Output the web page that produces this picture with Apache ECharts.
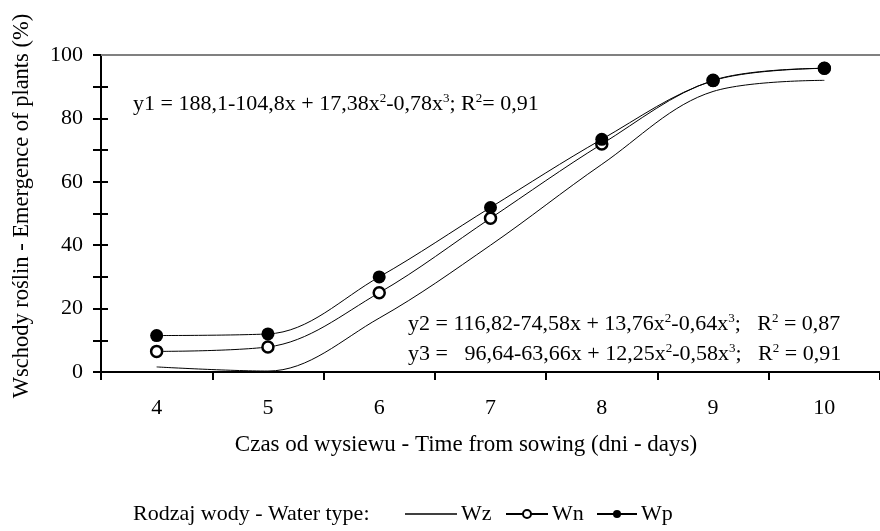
<!DOCTYPE html>
<html>
<head>
<meta charset="utf-8">
<script src="https://cdn.jsdelivr.net/npm/echarts@6/dist/echarts.min.js"></script>
<style>html,body{margin:0;padding:0;background:#fff;}#chart{width:880px;height:531px;}</style>
</head>
<body>
<div id="chart"></div>
<script>
var categories = ['4', '5', '6', '7', '8', '9', '10'];
var wz = [1.6, 0.3, 17, 40, 65.5, 88.5, 92];
var wn = [6.5, 7.9, 25.0, 48.5, 71.9, 92, 95.8];
var wp = [11.5, 12.0, 30.0, 51.9, 73.4, 91.9, 95.8];
var seriesNames = ['Wz', 'Wn', 'Wp'];
var yTitle = 'Wschody roślin - Emergence of plants (%)';
var xTitle = 'Czas od wysiewu - Time from sowing (dni - days)';
var legendTitle = 'Rodzaj wody - Water type:';

var FONT = '"Liberation Serif", "Times New Roman", serif';
var FS = 22;
var rich = {
  n: {fontFamily: FONT, fontSize: FS, color: '#000', lineHeight: 24},
  s: {fontFamily: FONT, fontSize: 13, color: '#000', verticalAlign: 'top', lineHeight: 24}
};

var chart = echarts.init(document.getElementById('chart'), null, {renderer: 'canvas'});
function ttl(text, left, top) {
  return {text: text, left: left, top: top, padding: 0,
    textStyle: {fontFamily: FONT, fontSize: FS, fontWeight: 'normal', color: '#000', rich: rich}};
}
function leg(name, left, w, h, icon) {
  var d = {name: name};
  if (icon) d.icon = icon;
  return {data: [d], left: left, top: 503, padding: 0, itemWidth: w, itemHeight: h, itemGap: 0,
    textStyle: {fontFamily: FONT, fontSize: FS, color: '#000', padding: [0, 0, 0, -1]}};
}
var option = {
  backgroundColor: '#fff',
  animation: false,
  title: [
    ttl('{n|y1 = 188,1-104,8x + 17,38x}{s|2}{n|-0,78x}{s|3}{n|; R}{s|2}{n|= 0,91}', 133, 92),
    ttl('{n|y2 = 116,82-74,58x + 13,76x}{s|2}{n|-0,64x}{s|3}{n|;   R}{s|2}{n| = 0,87}', 408, 312),
    ttl('{n|y3 =   96,64-63,66x + 12,25x}{s|2}{n|-0,58x}{s|3}{n|;   R}{s|2}{n| = 0,91}', 408, 342),
    {text: xTitle, left: 466, top: 433, textAlign: 'center', padding: 0,
      textStyle: {fontFamily: FONT, fontSize: 23, fontWeight: 'normal', color: '#000'}},
    {text: legendTitle, left: 133, top: 503, padding: 0,
      textStyle: {fontFamily: FONT, fontSize: FS, fontWeight: 'normal', color: '#000'}}
  ],
  graphic: [{
    type: 'text', x: 22, y: 206, rotation: Math.PI / 2,
    style: {text: yTitle, font: '22.5px ' + FONT, fill: '#000', textAlign: 'center', textVerticalAlign: 'middle'}
  }],
  legend: [
    leg('Wz', 405, 52, 1.6, 'rect'),
    leg('Wn', 505, 42, 10),
    leg('Wp', 596, 40, 10)
  ],
  grid: {left: 101, right: -8, top: 55, bottom: 159, containLabel: false},
  xAxis: {
    type: 'category', data: categories, boundaryGap: true,
    axisLine: {lineStyle: {color: '#000', width: 2}},
    axisTick: {show: true, length: 8, lineStyle: {color: '#000', width: 2}},
    axisLabel: {fontFamily: FONT, fontSize: FS, color: '#000', margin: 25},
    splitLine: {show: false}
  },
  yAxis: [{
    type: 'value', min: 0, max: 100, interval: 20,
    axisLine: {show: true, lineStyle: {color: '#000', width: 2}},
    axisTick: {show: true, length: 8, lineStyle: {color: '#000', width: 2}},
    minorTick: {show: true, splitNumber: 2, length: 8, lineStyle: {color: '#000', width: 2}},
    axisLabel: {fontFamily: FONT, fontSize: FS, color: '#000', margin: 18},
    splitLine: {show: false}
  }, {
    type: 'value', min: 0, max: 100, interval: 20, position: 'left',
    axisLine: {show: false},
    axisTick: {show: true, inside: true, length: 7, lineStyle: {color: '#000', width: 2}},
    minorTick: {show: true, splitNumber: 2, length: 7, lineStyle: {color: '#000', width: 2}},
    axisLabel: {show: false},
    splitLine: {show: false}
  }],
  series: [{
    name: 'Wz', type: 'line', data: wz, smooth: 0.35, showSymbol: false, symbol: 'none',
    lineStyle: {color: '#000', width: 1}, itemStyle: {color: '#000'},
    markLine: {silent: true, symbol: 'none', label: {show: false},
      lineStyle: {color: '#808080', type: 'solid', width: 2}, data: [{yAxis: 100}]}
  }, {
    name: 'Wn', type: 'line', data: wn, smooth: 0.35, symbol: 'circle', symbolSize: 11,
    lineStyle: {color: '#000', width: 1},
    itemStyle: {color: '#fff', borderColor: '#000', borderWidth: 2.5}
  }, {
    name: 'Wp', type: 'line', data: wp, smooth: 0.35, symbol: 'circle', symbolSize: 13,
    lineStyle: {color: '#000', width: 1},
    itemStyle: {color: '#000', borderColor: '#000', borderWidth: 0}
  }]
};
chart.setOption(option);
</script>
</body>
</html>
